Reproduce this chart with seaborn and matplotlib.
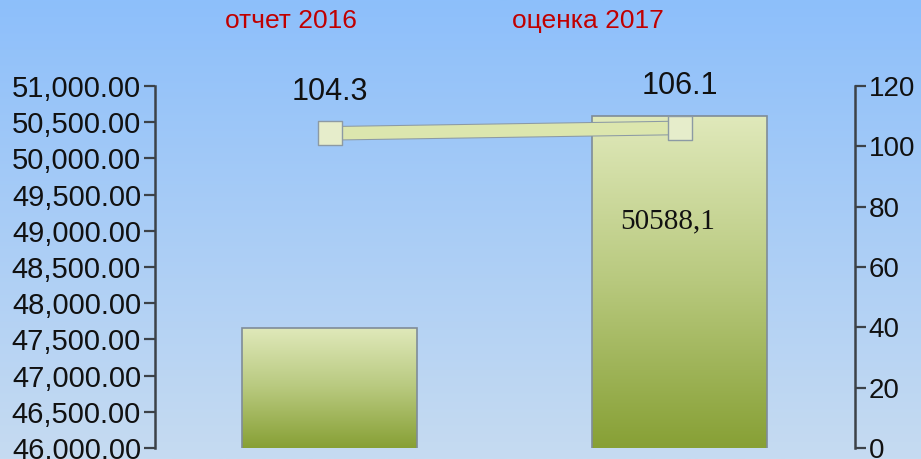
import numpy as np
import pandas as pd
import seaborn as sns
import matplotlib.pyplot as plt
import matplotlib.patheffects as pe
from matplotlib.colors import LinearSegmentedColormap

# data
categories = ["отчет 2016", "оценка 2017"]
amounts = [47660.0, 50588.1]          # left axis, bars
growth = [104.3, 106.1]               # right axis, line
bar_labels = ["", "50588,1"]
left_ticks = np.arange(46000, 51001, 500)
right_ticks = np.arange(0, 121, 20)

df = pd.DataFrame({"cat": categories, "amount": amounts, "growth": growth,
                   "pos": np.arange(len(categories))})

sns.set_style("white")
plt.rcParams["font.family"] = ["Liberation Sans", "DejaVu Sans"]

fig = plt.figure(figsize=(9.21, 4.59), dpi=100)

# blue gradient background
bg = fig.add_axes([0, 0, 1, 1], zorder=-10)
bg_cmap = LinearSegmentedColormap.from_list("bg", ["#8dbffb", "#c6dbf1"])
bg.imshow(np.linspace(0, 1, 256).reshape(-1, 1), aspect="auto", cmap=bg_cmap,
          extent=[0, 1, 0, 1])
bg.set_axis_off()

ax = fig.add_axes([0.1683, 0.024, 0.76, 0.7887])
ax.patch.set_alpha(0)

sns.barplot(data=df, x="cat", y="amount", ax=ax, width=0.5, color="#b5c77a",
            edgecolor="#7f8c98", linewidth=1.2)
ax.set_xlim(-0.5, 1.5)
ax.set_ylim(46000, 51000)

# green vertical gradient inside each bar
bar_cmap = LinearSegmentedColormap.from_list("bar", ["#e0e9bb", "#b8c97e", "#87a035"])
for p in ax.patches:
    x0, w = p.get_x(), p.get_width()
    top = p.get_y() + p.get_height()
    im = ax.imshow(np.linspace(0, 1, 256).reshape(-1, 1), aspect="auto", cmap=bar_cmap,
                   extent=[x0, x0 + w, 46000, top], zorder=p.get_zorder() - 0.1)
    im.set_clip_path(p)
    p.set_facecolor("none")
ax.set_xlim(-0.5, 1.5)
ax.set_ylim(46000, 51000)

for i, lab in enumerate(bar_labels):
    if lab:
        ax.annotate(lab, (i, amounts[i]), xytext=(-9, -76), textcoords="offset points",
                    ha="center", va="center", fontsize=21, family="Liberation Serif",
                    color="#111111")

axis_col = "#3c4248"
ax.set_yticks(left_ticks)
ax.set_yticklabels([f"{v:,.2f}" for v in left_ticks], fontsize=21, color="#111111")
ax.tick_params(axis="y", direction="out", length=8, width=1.6, color=axis_col, pad=2)
ax.set_xticks([])
ax.set_xlabel("")
ax.set_ylabel("")
for s in ["top", "bottom", "right"]:
    ax.spines[s].set_visible(False)
ax.spines["left"].set_color(axis_col)
ax.spines["left"].set_linewidth(1.8)

# growth line on right axis
ax2 = ax.twinx()
ax2.patch.set_alpha(0)
sns.lineplot(data=df, x="pos", y="growth", ax=ax2, color="#dce6ae", linewidth=9,
             path_effects=[pe.Stroke(linewidth=10.5, foreground="#8c9aa4"), pe.Normal()])
sns.scatterplot(data=df, x="pos", y="growth", ax=ax2, marker="s", s=300,
                color="#e6edcb", edgecolor="#8c9aa4", linewidth=1.0, zorder=5)
ax2.set_ylim(0, 120)
ax2.set_xlim(-0.5, 1.5)
ax2.set_yticks(right_ticks)
ax2.set_yticklabels([str(v) for v in right_ticks], fontsize=20, color="#111111")
ax2.tick_params(axis="y", direction="out", length=8, width=1.6, color=axis_col, pad=2)
for s in ["top", "bottom", "left"]:
    ax2.spines[s].set_visible(False)
ax2.spines["right"].set_color(axis_col)
ax2.spines["right"].set_linewidth(1.8)
ax2.set_xlabel("")
ax2.set_ylabel("")

for i, g in enumerate(growth):
    ax2.annotate(f"{g:.1f}", (i, g), xytext=(0, 30), textcoords="offset points",
                 ha="center", va="center", fontsize=22, color="#111111")

# category names in red along the top
for xpos, name in zip([0.316, 0.638], categories):
    fig.text(xpos, 0.954, name, ha="center", va="center", fontsize=19, color="#c00000")

fig.savefig("out.png", dpi=100)
